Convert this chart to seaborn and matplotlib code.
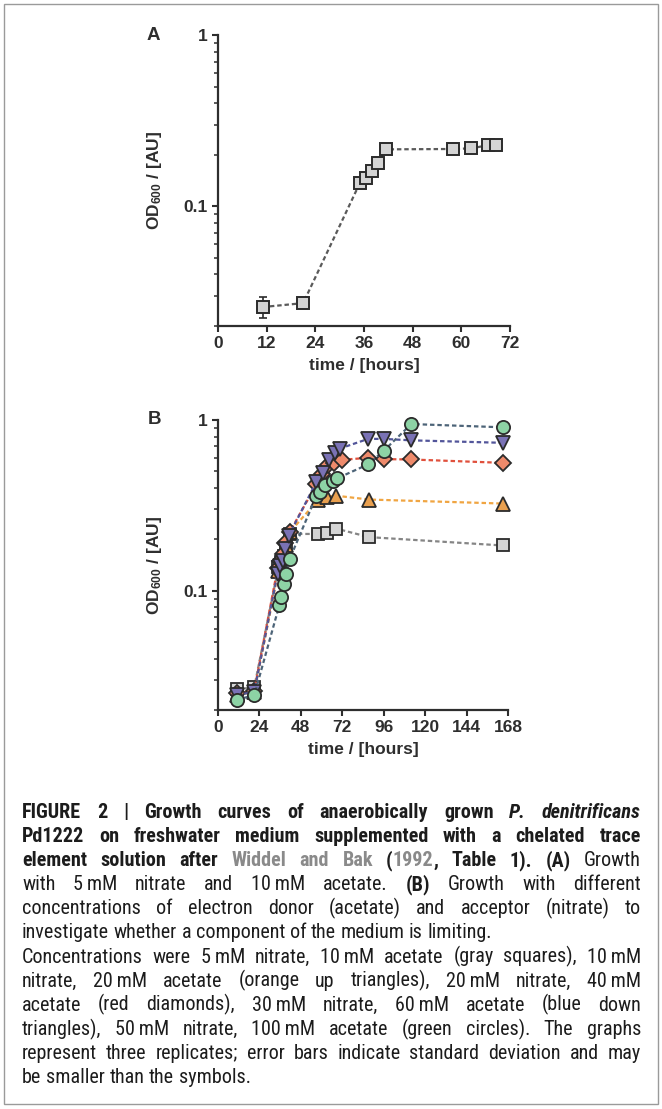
import matplotlib
matplotlib.use('Agg')
import matplotlib.pyplot as plt
from matplotlib import font_manager
from matplotlib.patches import Rectangle
from matplotlib.ticker import FixedLocator, FixedFormatter, LogLocator, NullFormatter
import pandas as pd
import seaborn as sns


W, H = 662, 1109

# ---- panel A: 5 mM nitrate, 10 mM acetate ----
A_TIME = [11, 21, 35, 36.5, 38, 39.5, 41.5, 58, 62.5, 66.5, 68.5]
A_OD = [0.0258, 0.0272, 0.137, 0.147, 0.160, 0.180, 0.215, 0.216, 0.218, 0.227, 0.228]
A_SD = [0.0036, 0.0008, 0.004, 0.004, 0.004, 0.005, 0.005, 0.004, 0.004, 0.004, 0.004]

# ---- panel B: different nitrate / acetate concentrations ----
GRAY_T = [11, 21, 35, 36.5, 38, 39.5, 41.5, 58, 63, 68.5, 87.5, 165]
GRAY_OD = [0.0264, 0.0272, 0.137, 0.147, 0.160, 0.180, 0.215, 0.215, 0.218, 0.231, 0.206, 0.184]

ORANGE_T = [11, 21, 35, 36.5, 38, 39.5, 41.5, 58, 63, 68.5, 87.5, 165]
ORANGE_OD = [0.0245, 0.0255, 0.13, 0.145, 0.16, 0.185, 0.22, 0.34, 0.355, 0.36, 0.342, 0.324]

RED_T = [11, 21, 34.5, 36, 37.5, 39, 41.5, 57, 60, 63.5, 67, 72, 87, 96, 112, 165]
RED_OD = [0.025, 0.026, 0.135, 0.15, 0.165, 0.19, 0.22, 0.42, 0.48, 0.545, 0.56, 0.585, 0.60, 0.59, 0.587, 0.561]

BLUE_T = [11, 21, 34.5, 36, 37.5, 39, 41, 57, 61, 64.5, 68, 70.5, 87, 96, 112, 165]
BLUE_OD = [0.0245, 0.0255, 0.126, 0.14, 0.15, 0.175, 0.21, 0.434, 0.486, 0.58, 0.64, 0.68, 0.775, 0.775, 0.76, 0.735]

GREEN_T = [11, 21, 35.5, 36.5, 38.5, 39.5, 41.5, 57, 59, 62, 66.5, 69, 87, 96, 112, 165]
GREEN_OD = [0.023, 0.0244, 0.082, 0.092, 0.11, 0.125, 0.153, 0.36, 0.38, 0.415, 0.44, 0.455, 0.55, 0.66, 0.947, 0.906]

# (times, values, marker, fill colour, line colour)
SERIES_B = [
    (GRAY_T, GRAY_OD, 's', '#d4d4d4', '#858585'),
    (ORANGE_T, ORANGE_OD, '^', '#e9a04f', '#f0a542'),
    (RED_T, RED_OD, 'D', '#ee8a6b', '#e0503c'),
    (BLUE_T, BLUE_OD, 'v', '#7a72b5', '#52559a'),
    (GREEN_T, GREEN_OD, 'o', '#8dd3a5', '#4d6478'),
]

CAPTION_LINES = [
    ([('FIGURE 2 | Growth curves of anaerobically grown ', 'b'), ('P. denitrificans', 'bi')], True),
    ([('Pd1222 on freshwater medium supplemented with a chelated trace', 'b')], True),
    ([('element solution after ', 'b'), ('Widdel and Bak', 'bg'), (' (', 'b'), ('1992', 'bg'),
      (', Table 1). (A)', 'b'), (' Growth', 'r')], True),
    ([('with 5\u2009mM nitrate and 10\u2009mM acetate. ', 'r'), ('(B)', 'b'), (' Growth with different', 'r')], True),
    ([('concentrations of electron donor (acetate) and acceptor (nitrate) to', 'r')], True),
    ([('investigate whether a component of the medium is limiting.', 'r')], False),
    ([('Concentrations were 5\u2009mM nitrate, 10\u2009mM acetate (gray squares), 10\u2009mM', 'r')], True),
    ([('nitrate, 20\u2009mM acetate (orange up triangles), 20\u2009mM nitrate, 40\u2009mM', 'r')], True),
    ([('acetate (red diamonds), 30\u2009mM nitrate, 60\u2009mM acetate (blue down', 'r')], True),
    ([('triangles), 50\u2009mM nitrate, 100\u2009mM acetate (green circles). The graphs', 'r')], True),
    ([('represent three replicates; error bars indicate standard deviation and may', 'r')], True),
    ([('be smaller than the symbols.', 'r')], False),
]

sns.set_style('ticks')
plt.rcParams['font.family'] = ['Liberation Sans', 'DejaVu Sans']
plt.rcParams['mathtext.fontset'] = 'custom'
plt.rcParams['mathtext.rm'] = 'Liberation Sans:bold'
plt.rcParams['mathtext.bf'] = 'Liberation Sans:bold'
plt.rcParams['mathtext.it'] = 'Liberation Sans:bold:italic'

AX_COLOR = '#2e2e2e'
EDGE = '#2b2b2b'
TICK_SIZE = 12.5


def pick_condensed():
    """Find a condensed sans family for the caption, if one is installed."""
    entries = font_manager.fontManager.ttflist
    names = {e.name for e in entries}
    for nm in ['Liberation Sans Narrow', 'Roboto Condensed', 'Noto Sans Condensed',
               'Open Sans Condensed', 'Noto Sans SemiCondensed', 'Open Sans SemiCondensed']:
        if nm in names:
            return [nm, 'DejaVu Sans'], 'normal'
    for fam in ['Roboto', 'Noto Sans', 'Open Sans', 'DejaVu Sans']:
        for e in entries:
            if e.name == fam and e.stretch in ('condensed', 'semi-condensed', 'extra-condensed'):
                return [fam, 'DejaVu Sans'], 'condensed'
    return ['Liberation Sans', 'DejaVu Sans'], 'normal'


def style_axis(ax, xmax, xstep, label):
    ax.set_yscale('log')
    ax.set_ylim(0.02, 1)
    ax.set_xlim(0, xmax)
    ax.xaxis.set_major_locator(FixedLocator(list(range(0, xmax + 1, xstep))))
    ax.yaxis.set_major_locator(FixedLocator([0.1, 1]))
    ax.yaxis.set_major_formatter(FixedFormatter(['0.1', '1']))
    ax.yaxis.set_minor_locator(LogLocator(base=10, subs=[2, 3, 4, 5, 6, 7, 8, 9]))
    ax.yaxis.set_minor_formatter(NullFormatter())
    for side in ['top', 'right']:
        ax.spines[side].set_visible(False)
    for side in ['left', 'bottom']:
        ax.spines[side].set_linewidth(1.6)
        ax.spines[side].set_color(AX_COLOR)
    ax.tick_params(which='major', length=4.5, width=1.5, color=AX_COLOR, pad=3,
                   labelsize=TICK_SIZE, labelcolor=AX_COLOR)
    ax.tick_params(which='minor', length=3, width=1.1, color=AX_COLOR)
    for lab in ax.get_xticklabels() + ax.get_yticklabels():
        lab.set_fontweight('bold')
    ax.set_xlabel('time / [hours]', fontsize=TICK_SIZE, fontweight='bold', color=AX_COLOR, labelpad=5)
    ax.set_ylabel(r'OD$_{\mathrm{600}}$ / [AU]', fontsize=TICK_SIZE, fontweight='bold', color=AX_COLOR)
    ax.yaxis.set_label_coords(-0.185, 0.5)
    ax.text(-0.22, 1.0, label, transform=ax.transAxes, fontsize=13.5, fontweight='bold',
            color=AX_COLOR, ha='center', va='center')


fig = plt.figure(figsize=(W / 100, H / 100), dpi=100)
axA = fig.add_axes([218 / W, 1 - 326 / H, 292 / W, 291 / H])
axB = fig.add_axes([218 / W, 1 - 710 / H, 290 / W, 290 / H])

# panel A
dfA = pd.DataFrame({'time': A_TIME, 'od': A_OD, 'sd': A_SD})
axA.errorbar(dfA['time'], dfA['od'], yerr=dfA['sd'], fmt='none', ecolor=EDGE,
             elinewidth=1.2, capsize=3, capthick=1.2, zorder=2)
sns.lineplot(data=dfA, x='time', y='od', ax=axA, estimator=None, errorbar=None,
             color='#5a5a5a', linestyle=(0, (2, 1.3)), linewidth=1.6,
             marker='s', markersize=8.8, markerfacecolor='#d4d4d4',
             markeredgecolor=EDGE, markeredgewidth=1.4, zorder=3)
style_axis(axA, 72, 12, 'A')

# panel B
for i, (t, od, mk, fill, line) in enumerate(SERIES_B):
    df = pd.DataFrame({'time': t, 'od': od})
    ms = {'s': 8.8, '^': 9.8, 'v': 9.8, 'o': 9.5, 'D': 7.8}[mk]
    sns.lineplot(data=df, x='time', y='od', ax=axB, estimator=None, errorbar=None,
                 color=line, linestyle=(0, (2, 1.3)), linewidth=1.6,
                 marker=mk, markersize=ms, markerfacecolor=fill,
                 markeredgecolor=EDGE, markeredgewidth=1.3, zorder=3 + i)
style_axis(axB, 168, 24, 'B')
for ax in (axA, axB):
    for ln in ax.lines:
        ln.set_clip_on(False)

# ---- caption ----
CAP_LEFT, CAP_RIGHT = 22, 641
CAP_BASE0, CAP_STEP = 818, 24.1
CAP_FAMILY, CAP_STRETCH = pick_condensed()
CAP_SIZE = 12.8
STYLES = {
    'b': dict(fontweight='bold', fontstyle='normal', color='#1c1c1c'),
    'bi': dict(fontweight='bold', fontstyle='italic', color='#1c1c1c'),
    'bg': dict(fontweight='bold', fontstyle='normal', color='#8a8a8a'),
    'r': dict(fontweight='normal', fontstyle='normal', color='#1c1c1c'),
}
renderer = fig.canvas.get_renderer()


def tokens_of(runs):
    toks = [[]]
    for text, key in runs:
        for j, part in enumerate(text.split(' ')):
            if j > 0:
                toks.append([])
            if part:
                toks[-1].append((part, key))
    return [t for t in toks if t]


def measure(s, key, size):
    t = fig.text(0, 0, s, fontsize=size, family=CAP_FAMILY, fontstretch=CAP_STRETCH, **STYLES[key])
    w = t.get_window_extent(renderer).width
    t.remove()
    return w


def space_width(size):
    return measure('a a', 'r', size) - measure('aa', 'r', size)


# scale the font so the widest justified line just fits with normal spaces
widest = 0
for runs, just in CAPTION_LINES:
    if not just:
        continue
    toks = tokens_of(runs)
    nat = sum(measure(s, k, CAP_SIZE) for tok in toks for s, k in tok)
    nat += space_width(CAP_SIZE) * (len(toks) - 1)
    widest = max(widest, nat)
CAP_SIZE = min(CAP_SIZE * (CAP_RIGHT - CAP_LEFT) / widest, 14.5)

sp = space_width(CAP_SIZE)
for n, (runs, just) in enumerate(CAPTION_LINES):
    toks = tokens_of(runs)
    y = 1 - (CAP_BASE0 + n * CAP_STEP) / H
    widths = [[measure(s, k, CAP_SIZE) for s, k in tok] for tok in toks]
    total = sum(sum(w) for w in widths)
    gap = (CAP_RIGHT - CAP_LEFT - total) / (len(toks) - 1) if just else sp
    x = CAP_LEFT
    for tok, ws in zip(toks, widths):
        for (s, k), w in zip(tok, ws):
            fig.text(x / W, y, s, fontsize=CAP_SIZE, family=CAP_FAMILY, fontstretch=CAP_STRETCH,
                     ha='left', va='baseline', **STYLES[k])
            x += w
        x += gap

fig.add_artist(Rectangle((4 / W, 1 - 1104 / H), 654 / W, 1100 / H, transform=fig.transFigure,
                         fill=False, edgecolor='#9a9a9a', linewidth=1.0))

fig.savefig('out.png', dpi=100)
